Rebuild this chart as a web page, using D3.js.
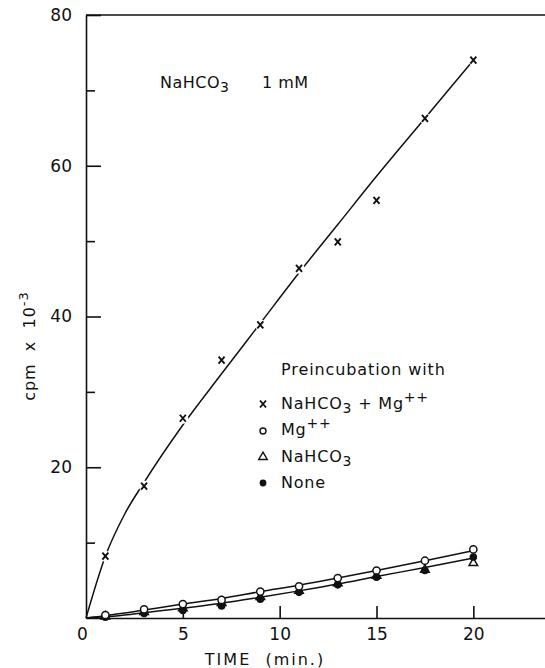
<!DOCTYPE html>
<html>
<head>
<meta charset="utf-8">
<script src="https://cdn.jsdelivr.net/npm/d3@7"></script>
<style>
  body { margin: 0; background: #fff; }
  text { font-family: "DejaVu Sans", sans-serif; fill: #111; }
</style>
</head>
<body>
<script>
// measured points (time in min, cpm x 10^-3)
var times = [1, 3, 5, 7, 9, 11, 13, 15, 17.5, 20];
var bicarbMg = [8.2, 17.5, 26.5, 34.2, 38.9, 46.4, 49.9, 55.4, 66.3, 74.0];
var mgOnly = [0.4, 1.15, 1.85, 2.4, 3.5, 4.2, 5.3, 6.3, 7.6, 9.1];
var bicarbOnly = [0.2, 0.8, 1.3, 2.0, 2.8, 3.6, 4.6, 5.6, 6.4, 7.3];
var noneVals = [0.1, 0.6, 1.0, 1.6, 2.5, 3.4, 4.4, 5.4, 6.3, 8.1];

// hand drawn fit curves
var fitTimes = [0, 1, 2, 3, 5, 7, 9, 11, 13, 15, 17.5, 20];
var fitBicarbMg = [0, 8.2, 13.8, 18.0, 25.6, 32.4, 39.1, 45.8, 52.2, 58.6, 66.3, 74.0];
var fitUpperLow = [0, 0.3, 0.65, 1.05, 1.85, 2.6, 3.5, 4.35, 5.3, 6.3, 7.6, 8.95];
var fitLowerLow = [0, 0.15, 0.4, 0.7, 1.3, 1.95, 2.75, 3.6, 4.5, 5.5, 6.7, 7.95];

var xTicks = [0, 5, 10, 15, 20];
var yMajor = [20, 40, 60, 80];
var yMinor = [10, 30, 50, 70];

var svg = d3.select("body").append("svg").attr("width", 545).attr("height", 668);

var x = d3.scaleLinear().domain([0, 23.7]).range([86, 545]);
var y = d3.scaleLinear().domain([0, 80]).range([618, 15]);

// axes
var xAxis = d3.axisBottom(x).tickValues(xTicks).tickSize(-12).tickSizeOuter(0).tickPadding(7).tickFormat(d3.format("d"));
var gx = svg.append("g").attr("transform", "translate(0," + y(0) + ")").call(xAxis);
gx.selectAll(".tick").filter(function(d) { return d == 0; }).select("line").remove();
gx.selectAll(".tick").filter(function(d) { return d == 0; }).select("text").attr("dx", -4);

var yAxis = d3.axisLeft(y).tickValues(yMajor).tickSize(-15).tickSizeOuter(0).tickPadding(14);
var gy = svg.append("g").attr("transform", "translate(" + x(0) + ",0)").call(yAxis);
var gy2 = svg.append("g").attr("transform", "translate(" + x(0) + ",0)")
  .call(d3.axisLeft(y).tickValues(yMinor).tickSize(-9).tickSizeOuter(0).tickFormat(""));
gy2.select(".domain").remove();

svg.selectAll(".tick text").style("font-family", "DejaVu Sans, sans-serif").style("font-size", "17px").attr("fill", "#111");
svg.selectAll(".domain, .tick line").attr("stroke", "#111").attr("stroke-width", 1.6);
gx.selectAll(".tick text").attr("dy", "0.9em");

// top frame line
svg.append("line").attr("x1", x(0)).attr("x2", 545).attr("y1", y(80)).attr("y2", y(80))
  .attr("stroke", "#111").attr("stroke-width", 1.6);

// fit curves
var line = d3.line().x(function(d) { return x(d[0]); }).y(function(d) { return y(d[1]); }).curve(d3.curveMonotoneX);
[fitBicarbMg, fitUpperLow, fitLowerLow].forEach(function(vals) {
  svg.append("path").datum(fitTimes.map(function(t, i) { return [t, vals[i]]; }))
    .attr("d", line).attr("fill", "none").attr("stroke", "#111").attr("stroke-width", 1.5);
});

function pts(vals) { return times.map(function(t, i) { return [t, vals[i]]; }); }

// white gaps round markers
svg.append("g").selectAll("circle").data(pts(bicarbMg)).enter().append("circle")
  .attr("cx", function(d) { return x(d[0]); }).attr("cy", function(d) { return y(d[1]); })
  .attr("r", 5.5).attr("fill", "#fff");

// x markers
function drawX(g, cx, cy) {
  var s = 3;
  g.append("path").attr("d", "M" + (cx - s) + "," + (cy - s - 0.5) + "L" + (cx + s) + "," + (cy + s + 0.5) +
    "M" + (cx + s) + "," + (cy - s - 0.5) + "L" + (cx - s) + "," + (cy + s + 0.5))
    .attr("stroke", "#111").attr("stroke-width", 1.9);
}
var gX = svg.append("g");
pts(bicarbMg).forEach(function(d) { drawX(gX, x(d[0]), y(d[1])); });

var tri = d3.symbol().type(d3.symbolTriangle).size(32);
svg.append("g").selectAll("path").data(pts(bicarbOnly)).enter().append("path")
  .attr("d", tri).attr("transform", function(d) { return "translate(" + x(d[0]) + "," + y(d[1]) + ")"; })
  .attr("fill", "#fff").attr("stroke", "#111").attr("stroke-width", 1.5);
svg.append("g").selectAll("circle").data(pts(noneVals)).enter().append("circle")
  .attr("cx", function(d) { return x(d[0]); }).attr("cy", function(d) { return y(d[1]); })
  .attr("r", 3.8).attr("fill", "#111");
svg.append("g").selectAll("circle").data(pts(mgOnly)).enter().append("circle")
  .attr("cx", function(d) { return x(d[0]); }).attr("cy", function(d) { return y(d[1]); })
  .attr("r", 3.6).attr("fill", "#fff").attr("stroke", "#111").attr("stroke-width", 1.5);

// title inside plot
var t1 = svg.append("text").attr("x", 160).attr("y", 88).style("font-size", "16px").style("letter-spacing", "0.5px");
t1.append("tspan").text("NaHCO");
t1.append("tspan").attr("dy", 4).style("font-size", "14px").text("3");
t1.append("tspan").attr("dy", -4).attr("x", 262).text("1 mM");

// legend
var fs = "16px";
svg.append("text").attr("x", 281).attr("y", 375).style("font-size", fs).style("letter-spacing", "0.9px").text("Preincubation with");
var legY = [409, 435, 462, 488];
var lg = svg.append("g");
drawX(lg, 263, legY[0] - 5);
lg.append("circle").attr("cx", 263).attr("cy", legY[1] - 4).attr("r", 3).attr("fill", "#fff").attr("stroke", "#111").attr("stroke-width", 1.4);
lg.append("path").attr("d", tri).attr("transform", "translate(263," + (legY[2] - 5) + ")").attr("fill", "#fff").attr("stroke", "#111").attr("stroke-width", 1.4);
lg.append("circle").attr("cx", 263).attr("cy", legY[3] - 5).attr("r", 3.4).attr("fill", "#111");

var l1 = svg.append("text").attr("x", 281).attr("y", legY[0]).style("font-size", fs).style("letter-spacing", "0.8px");
l1.append("tspan").text("NaHCO");
l1.append("tspan").attr("dy", 4).style("font-size", "14px").text("3");
l1.append("tspan").attr("dy", -4).text("  +  Mg");
l1.append("tspan").attr("dy", -7).style("font-size", "14px").text("++");
var l2 = svg.append("text").attr("x", 281).attr("y", legY[1]).style("font-size", fs).style("letter-spacing", "0.8px");
l2.append("tspan").text("Mg");
l2.append("tspan").attr("dy", -7).style("font-size", "14px").text("++");
var l3 = svg.append("text").attr("x", 281).attr("y", legY[2]).style("font-size", fs).style("letter-spacing", "0.8px");
l3.append("tspan").text("NaHCO");
l3.append("tspan").attr("dy", 4).style("font-size", "14px").text("3");
svg.append("text").attr("x", 281).attr("y", legY[3]).style("font-size", fs).style("letter-spacing", "0.8px").text("None");

// axis titles
svg.append("text").attr("x", 265).attr("y", 665).attr("text-anchor", "middle")
  .style("font-size", "16px").style("letter-spacing", "2px").attr("xml:space", "preserve").text("TIME  (min.)");
var yl = svg.append("text").attr("transform", "translate(35,346) rotate(-90)").attr("text-anchor", "middle")
  .style("font-size", "16px").style("letter-spacing", "1px").attr("xml:space", "preserve");
yl.append("tspan").text("cpm  x  10");
yl.append("tspan").attr("dy", -7).style("font-size", "13px").text("-3");
</script>
</body>
</html>
